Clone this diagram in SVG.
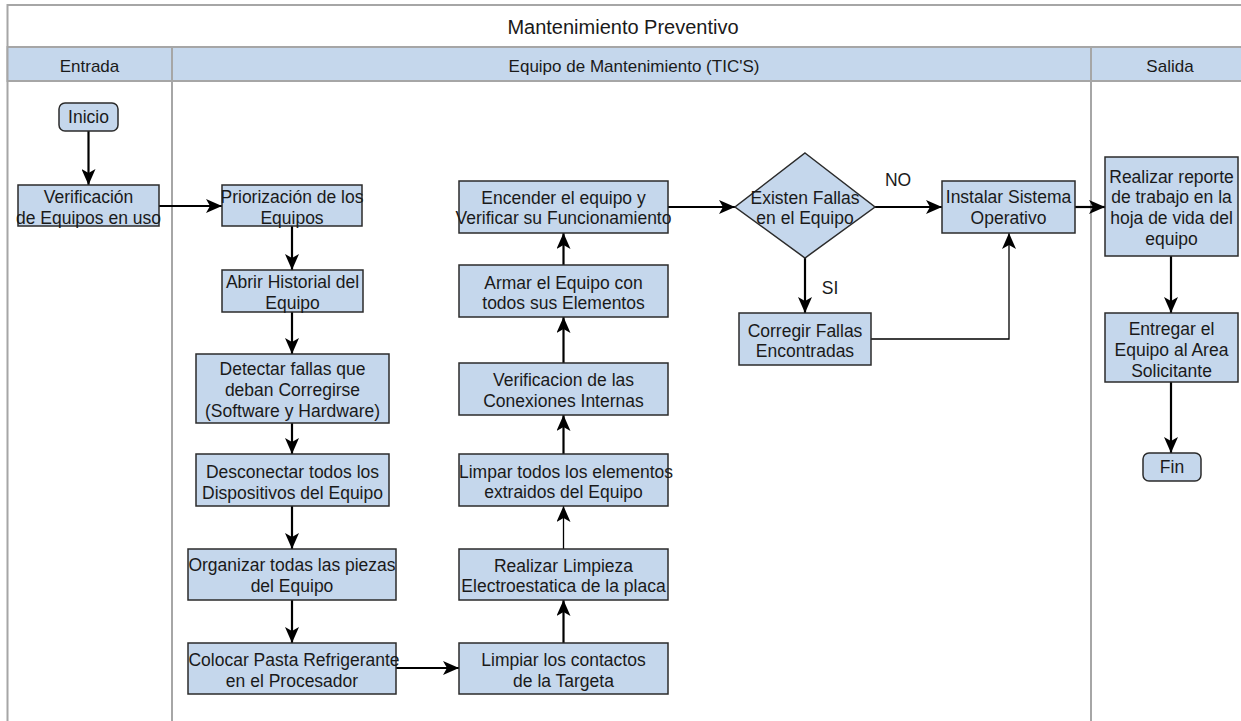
<svg xmlns="http://www.w3.org/2000/svg" width="1241" height="721" viewBox="0 0 1241 721">
  <style>
    text { font-family: "Liberation Sans", Arial, sans-serif; fill: #1a1a1a; }
    .title { font-size: 20px; text-anchor: middle; }
    .lane { font-size: 17px; text-anchor: middle; }
    .lbl { font-size: 17.5px; text-anchor: middle; }
    .edge-lbl { font-size: 17.5px; text-anchor: middle; }
    .frame { fill: none; stroke: #a6a6a6; stroke-width: 2; }
    .hdr { fill: #c5d7ec; stroke: #a6a6a6; stroke-width: 2; }
    .box { fill: #c5d7ec; stroke: #2b2b2b; stroke-width: 1.5; }
    .flow { fill: none; stroke: #000; stroke-width: 2.2; marker-end: url(#arrow); }
    .flow-thin { fill: none; stroke: #000; stroke-width: 1.3; marker-end: url(#arrow); }
  </style>
  <defs>
    <marker id="arrow" viewBox="0 0 16 14" refX="16" refY="7" markerWidth="16" markerHeight="14" markerUnits="userSpaceOnUse" orient="auto">
      <path d="M0,0 L16,7 L0,14 L4,7 Z" fill="#000"/>
    </marker>
  </defs>

  <rect width="1241" height="721" fill="#ffffff"/>

  <!-- pool and lanes -->
  <g id="pool">
    <rect class="frame" x="7.5" y="5" width="1242" height="730"/>
    <rect class="hdr" x="7.5" y="47" width="1242" height="34"/>
    <line class="frame" x1="172" y1="47" x2="172" y2="730"/>
    <line class="frame" x1="1091" y1="47" x2="1091" y2="730"/>
    <text class="title" x="623" y="34">Mantenimiento Preventivo</text>
    <text class="lane" x="89.5" y="72">Entrada</text>
    <text class="lane" x="634" y="72">Equipo de Mantenimiento (TIC'S)</text>
    <text class="lane" x="1170" y="72">Salida</text>
  </g>

  <!-- connectors -->
  <g id="connectors">
    <line class="flow" x1="88.5" y1="131" x2="88.5" y2="185"/>
    <line class="flow" x1="159" y1="206" x2="222" y2="206"/>
    <line class="flow" x1="292" y1="226" x2="292" y2="270"/>
    <line class="flow" x1="292" y1="312" x2="292" y2="354"/>
    <line class="flow" x1="292" y1="423" x2="292" y2="454"/>
    <line class="flow" x1="292" y1="506" x2="292" y2="549"/>
    <line class="flow" x1="292" y1="600" x2="292" y2="643"/>
    <line class="flow" x1="396" y1="668" x2="459" y2="668"/>
    <line class="flow" x1="563.5" y1="643" x2="563.5" y2="600"/>
    <line class="flow-thin" x1="563.5" y1="549" x2="563.5" y2="506"/>
    <line class="flow" x1="563.5" y1="454" x2="563.5" y2="415"/>
    <line class="flow" x1="563.5" y1="363" x2="563.5" y2="317"/>
    <line class="flow" x1="563.5" y1="265" x2="563.5" y2="233"/>
    <line class="flow" x1="668" y1="207" x2="735" y2="207"/>
    <line class="flow" x1="875" y1="207" x2="942" y2="207"/>
    <line class="flow" x1="805" y1="258" x2="805" y2="313"/>
    <polyline class="flow-thin" points="871,339 1009,339 1009,233"/>
    <line class="flow" x1="1075" y1="207" x2="1105" y2="207"/>
    <line class="flow" x1="1171" y1="256" x2="1171" y2="313"/>
    <line class="flow" x1="1171" y1="382" x2="1171" y2="453"/>
    <text class="edge-lbl" x="898" y="186">NO</text>
    <text class="edge-lbl" x="830" y="294">SI</text>
  </g>

  <!-- entrada lane -->
  <g id="inicio">
    <rect class="box" x="59" y="103" width="59" height="28" rx="6"/>
    <text class="lbl" x="88.5" y="123">Inicio</text>
  </g>
  <g id="verificacion-equipos">
    <rect class="box" x="18" y="185" width="141" height="41"/>
    <text class="lbl" x="88.5" y="203">Verificación</text>
    <text class="lbl" x="88.5" y="224">de Equipos en uso</text>
  </g>

  <!-- maintenance lane: left column -->
  <g id="priorizacion">
    <rect class="box" x="222" y="185" width="140" height="41"/>
    <text class="lbl" x="292" y="203">Priorización de los</text>
    <text class="lbl" x="292" y="224">Equipos</text>
  </g>
  <g id="abrir-historial">
    <rect class="box" x="222" y="270" width="141" height="42"/>
    <text class="lbl" x="292.5" y="288">Abrir Historial del</text>
    <text class="lbl" x="292.5" y="309">Equipo</text>
  </g>
  <g id="detectar-fallas">
    <rect class="box" x="196" y="354" width="193" height="69"/>
    <text class="lbl" x="292.5" y="375">Detectar fallas que</text>
    <text class="lbl" x="292.5" y="396">deban Corregirse</text>
    <text class="lbl" x="292.5" y="417">(Software y Hardware)</text>
  </g>
  <g id="desconectar">
    <rect class="box" x="196" y="454" width="193" height="52"/>
    <text class="lbl" x="292.5" y="477.5">Desconectar todos los</text>
    <text class="lbl" x="292.5" y="498.5">Dispositivos del Equipo</text>
  </g>
  <g id="organizar">
    <rect class="box" x="188" y="549" width="208" height="51"/>
    <text class="lbl" x="292" y="571">Organizar todas las piezas</text>
    <text class="lbl" x="292" y="592">del Equipo</text>
  </g>
  <g id="colocar-pasta">
    <rect class="box" x="188" y="643" width="208" height="51"/>
    <text class="lbl" x="294" y="666">Colocar Pasta Refrigerante</text>
    <text class="lbl" x="292" y="687">en el Procesador</text>
  </g>

  <!-- maintenance lane: right column -->
  <g id="limpiar-contactos">
    <rect class="box" x="459" y="643" width="209" height="51"/>
    <text class="lbl" x="563.5" y="666">Limpiar los contactos</text>
    <text class="lbl" x="563.5" y="687">de la Targeta</text>
  </g>
  <g id="limpieza-electroestatica">
    <rect class="box" x="459" y="549" width="209" height="51"/>
    <text class="lbl" x="563.5" y="572">Realizar Limpieza</text>
    <text class="lbl" x="563.5" y="592">Electroestatica de la placa</text>
  </g>
  <g id="limpiar-elementos">
    <rect class="box" x="459" y="454" width="209" height="52"/>
    <text class="lbl" x="566" y="478">Limpar todos los elementos</text>
    <text class="lbl" x="563.5" y="498">extraidos del Equipo</text>
  </g>
  <g id="verificacion-conexiones">
    <rect class="box" x="459" y="363" width="209" height="52"/>
    <text class="lbl" x="563.5" y="386">Verificacion de las</text>
    <text class="lbl" x="563.5" y="407">Conexiones Internas</text>
  </g>
  <g id="armar-equipo">
    <rect class="box" x="459" y="265" width="209" height="52"/>
    <text class="lbl" x="563.5" y="289">Armar el Equipo con</text>
    <text class="lbl" x="563.5" y="309">todos sus Elementos</text>
  </g>
  <g id="encender-equipo">
    <rect class="box" x="459" y="181" width="209" height="52"/>
    <text class="lbl" x="563.5" y="204">Encender el equipo y</text>
    <text class="lbl" x="563.5" y="224">Verificar su Funcionamiento</text>
  </g>

  <!-- decision -->
  <g id="existen-fallas">
    <polygon class="box" points="805,153 875,207 805,258 735,207"/>
    <text class="lbl" x="805" y="204">Existen Fallas</text>
    <text class="lbl" x="805" y="224">en el Equipo</text>
  </g>
  <g id="corregir-fallas">
    <rect class="box" x="739" y="313" width="132" height="52"/>
    <text class="lbl" x="805" y="337">Corregir Fallas</text>
    <text class="lbl" x="805" y="357">Encontradas</text>
  </g>
  <g id="instalar-so">
    <rect class="box" x="942" y="181" width="133" height="52"/>
    <text class="lbl" x="1008.5" y="203">Instalar Sistema</text>
    <text class="lbl" x="1008.5" y="224">Operativo</text>
  </g>

  <!-- salida lane -->
  <g id="reporte-trabajo">
    <rect class="box" x="1105" y="157" width="133" height="99"/>
    <text class="lbl" x="1171.5" y="183">Realizar reporte</text>
    <text class="lbl" x="1171.5" y="203">de trabajo en la</text>
    <text class="lbl" x="1171.5" y="224">hoja de vida del</text>
    <text class="lbl" x="1171.5" y="245">equipo</text>
  </g>
  <g id="entregar-equipo">
    <rect class="box" x="1105" y="313" width="133" height="69"/>
    <text class="lbl" x="1171.5" y="335">Entregar el</text>
    <text class="lbl" x="1171.5" y="356">Equipo al Area</text>
    <text class="lbl" x="1171.5" y="377">Solicitante</text>
  </g>
  <g id="fin">
    <rect class="box" x="1143" y="453" width="58" height="28" rx="6"/>
    <text class="lbl" x="1172" y="473">Fin</text>
  </g>
</svg>
